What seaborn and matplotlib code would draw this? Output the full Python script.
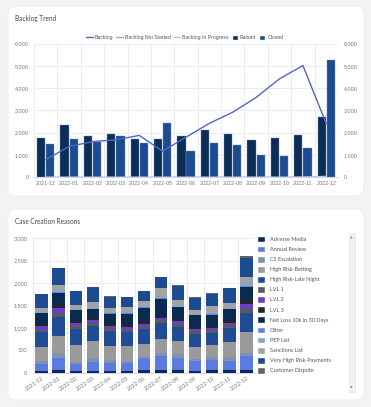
import numpy as np
import pandas as pd
import seaborn as sns
import matplotlib.pyplot as plt
from matplotlib.patches import FancyBboxPatch, Patch, Rectangle
from matplotlib.lines import Line2D
from matplotlib.ticker import FuncFormatter

# ---- data ----
months = ["2021-12", "2022-01", "2022-02", "2022-03", "2022-04", "2022-05", "2022-06",
          "2022-07", "2022-08", "2022-09", "2022-10", "2022-11", "2022-12"]

raised = [1760, 2340, 1830, 1920, 1700, 1700, 1830, 2130, 1950, 1680, 1770, 1890, 2700]
closed = [1490, 1720, 1600, 1840, 1520, 2420, 1170, 1530, 1440, 990, 950, 1310, 5260]
backlog = [790, 1380, 1600, 1680, 1880, 1170, 1800, 2420, 2920, 3580, 4420, 5010, 2400]
backlog_not_started = [0, 0, 0, 0, 0, 0, 0, 0, 0, 0, 0, 0, 0]
backlog_in_progress = [0, 0, 0, 0, 0, 0, 0, 0, 0, 0, 0, 10, 40]

reasons = ["Adverse Media", "Annual Review", "CS Escalation", "High Risk-Betting",
           "High Risk-Late Night", "LVL 1", "LVL 2", "LVL 3", "Net Loss 10k in 30 Days",
           "Other", "PEP List", "Sanctions List", "Very High Risk-Payments", "Customer Dispute"]

adverse_media = [30, 60, 40, 40, 30, 40, 60, 70, 60, 40, 50, 50, 70]
annual_review = [170, 260, 150, 200, 190, 180, 260, 300, 270, 220, 230, 220, 300]
cs_escalation = [60, 120, 40, 90, 60, 50, 40, 80, 90, 40, 60, 70, 60]
high_risk_betting = [320, 380, 390, 370, 320, 320, 290, 310, 290, 270, 280, 340, 480]
high_risk_late_night = [320, 420, 350, 340, 330, 310, 330, 350, 320, 300, 270, 320, 430]
lvl_1 = [60, 100, 70, 60, 60, 60, 50, 70, 60, 50, 60, 60, 90]
lvl_2 = [80, 110, 70, 70, 60, 70, 60, 50, 60, 50, 50, 60, 100]
lvl_3 = [50, 70, 50, 60, 40, 40, 40, 30, 40, 30, 30, 50, 80]
net_loss = [240, 260, 230, 190, 230, 250, 320, 390, 270, 280, 260, 250, 300]
other = [10, 20, 10, 10, 10, 10, 10, 20, 10, 10, 10, 10, 20]
pep_list = [30, 40, 30, 40, 30, 30, 40, 40, 40, 30, 40, 30, 70]
sanctions_list = [80, 120, 90, 110, 90, 100, 110, 170, 120, 90, 150, 100, 130]
very_high_risk_payments = [300, 370, 300, 330, 250, 230, 210, 250, 310, 260, 270, 320, 420]
customer_dispute = [10, 10, 10, 10, 10, 10, 10, 10, 10, 10, 10, 10, 50]

reason_values = [adverse_media, annual_review, cs_escalation, high_risk_betting,
                 high_risk_late_night, lvl_1, lvl_2, lvl_3, net_loss, other, pep_list,
                 sanctions_list, very_high_risk_payments, customer_dispute]

reason_colors = ["#0d2b52", "#5b7be0", "#7f93b0", "#9a9a9a", "#1f4c94", "#5a5a5a", "#6a3fc8",
                 "#262626", "#0b2a4f", "#6383e3", "#8fa3be", "#a3a3a3", "#1d4b90", "#636363"]

c_raised = "#0c2d55"
c_closed = "#1d4b8f"
c_backlog = "#4f66c2"
c_not_started = "#8ea3e6"
c_in_progress = "#b6c4ee"

W, H = 371, 407

sns.set_theme(style="white")
plt.rcParams['font.family'] = ['Lato', 'DejaVu Sans']

fig = plt.figure(figsize=(W / 100, H / 100), dpi=100)
fig.patch.set_facecolor("#f3f3f3")


def px_box(x0, y0, x1, y1):
    # pixel box (top-left origin) -> figure fraction [left, bottom, w, h]
    return [x0 / W, 1 - y1 / H, (x1 - x0) / W, (y1 - y0) / H]


# cards (behind the axes)
for (x0, y0, x1, y1) in [(8, 6, 364, 196), (8, 209, 364, 400)]:
    l, b, w, h = px_box(x0, y0, x1, y1)
    fig.add_artist(FancyBboxPatch((l, b), w, h, boxstyle="round,pad=0,rounding_size=0.02",
                                  transform=fig.transFigure, fc="white", ec="#e8e8e8", lw=0.5,
                                  zorder=-5))

fig.text(15 / W, 1 - 18 / H, "Backlog Trend", fontsize=4.7, color="#444444", va="center")
fig.text(15 / W, 1 - 221 / H, "Case Creation Reasons", fontsize=4.7, color="#444444", va="center")

thousands = FuncFormatter(lambda v, p: f"{v:,.0f}")
tick_color = "#777777"
grid_color = "#e9e9e9"
arial_like = ['Liberation Sans', 'DejaVu Sans']

# ---- Backlog Trend ----
ax1 = fig.add_axes(px_box(34, 43.5, 338, 177.3))
ax1.patch.set_alpha(0)
df_top = pd.DataFrame({
    "month": months * 2,
    "count": raised + closed,
    "type": ["Raised"] * len(months) + ["Closed"] * len(months),
})
sns.barplot(data=df_top, x="month", y="count", hue="type", palette=[c_raised, c_closed],
            saturation=1, width=0.78, gap=0.1, legend=False, ax=ax1, zorder=2,
            edgecolor="#6f8fc0", linewidth=0.3)
for vals, col in [(backlog_not_started, c_not_started), (backlog_in_progress, c_in_progress),
                  (backlog, c_backlog)]:
    sns.pointplot(x=months, y=vals, color=col, markers="", linewidth=1.0, ax=ax1, zorder=3)

ax1.set_ylim(0, 6000)
ax1.set_yticks(np.arange(0, 6001, 1000))
ax1.yaxis.set_major_formatter(thousands)
ax1.set_xlabel("")
ax1.set_ylabel("")
ax1.set_xticks(np.arange(-0.5, len(months), 1), minor=True)
ax1.grid(True, which="major", axis="y", color=grid_color, lw=0.6, zorder=0)
ax1.grid(True, which="minor", axis="x", color=grid_color, lw=0.6, zorder=0)
ax1.set_axisbelow(True)
ax1.tick_params(axis="both", which="both", length=0, labelsize=3.9, colors=tick_color)
ax1.tick_params(axis="y", pad=4)
ax1.tick_params(axis="x", pad=3)
for s in ["top", "right", "left"]:
    ax1.spines[s].set_visible(False)
ax1.spines["bottom"].set_color("#c8cde0")
ax1.spines["bottom"].set_linewidth(0.6)

ax2 = ax1.twinx()
ax2.set_ylim(0, 6000)
ax2.set_yticks(np.arange(0, 6001, 1000))
ax2.yaxis.set_major_formatter(thousands)
ax2.tick_params(axis="y", length=0, labelsize=3.9, colors=tick_color, pad=4)
for s in ax2.spines.values():
    s.set_visible(False)
for lab in ax1.get_xticklabels() + ax1.get_yticklabels() + ax2.get_yticklabels():
    lab.set_family(arial_like)

top_handles = [Line2D([], [], color=c_backlog, lw=1), Line2D([], [], color=c_not_started, lw=1),
               Line2D([], [], color=c_in_progress, lw=1), Patch(fc=c_raised), Patch(fc=c_closed)]
fig.legend(top_handles, ["Backlog", "Backlog Not Started", "Backlog In Progress", "Raised", "Closed"],
           loc="center", bbox_to_anchor=(185 / W, 1 - 37.5 / H), ncol=5,
           prop={"family": arial_like, "size": 3.7},
           frameon=False, handlelength=1.2, handleheight=1.2, handletextpad=0.4,
           columnspacing=0.6, labelcolor="#555555")

# ---- Case Creation Reasons ----
ax3 = fig.add_axes(px_box(33, 238.3, 255, 372.7))
ax3.patch.set_alpha(0)
stack = np.cumsum(np.array(reason_values), axis=0)
for i in range(len(reasons) - 1, -1, -1):
    sns.barplot(x=months, y=stack[i], color=reason_colors[i], saturation=1, width=0.72,
                linewidth=0, ax=ax3)

ax3.set_ylim(0, 3000)
ax3.set_yticks(np.arange(0, 3001, 500))
ax3.yaxis.set_major_formatter(thousands)
ax3.set_xticks(np.arange(-0.5, len(months), 1), minor=True)
ax3.grid(True, which="major", axis="y", color=grid_color, lw=0.6)
ax3.grid(True, which="minor", axis="x", color=grid_color, lw=0.6)
ax3.set_axisbelow(True)
ax3.tick_params(axis="both", which="both", length=0, labelsize=4.0, colors=tick_color)
ax3.tick_params(axis="y", pad=4)
ax3.tick_params(axis="x", pad=2)
plt.setp(ax3.get_xticklabels(), rotation=35, ha="right", rotation_mode="anchor")
for s in ["top", "right", "left"]:
    ax3.spines[s].set_visible(False)
ax3.spines["bottom"].set_color("#c8cde0")
ax3.spines["bottom"].set_linewidth(0.6)

fig.legend([Patch(fc=c) for c in reason_colors], reasons, loc="upper left",
           bbox_to_anchor=(257 / W, 1 - 235.5 / H), frameon=False, fontsize=4.0,
           handlelength=1.5, handleheight=1.5, handletextpad=0.8, labelspacing=0.6,
           borderaxespad=0, borderpad=0, labelcolor="#555555")

# scrollbar
l, b, w, h = px_box(348.5, 233, 355, 392)
fig.add_artist(Rectangle((l, b), w, h, transform=fig.transFigure, fc="#f2f2f2", ec="#e2e2e2", lw=0.4))
fig.text(351.7 / W, 1 - 238 / H, "\u25b2", fontsize=2.5, color="#888888", ha="center", va="center")
fig.text(351.7 / W, 1 - 388 / H, "\u25bc", fontsize=2.5, color="#888888", ha="center", va="center")

fig.savefig("out.png", dpi=100, facecolor=fig.get_facecolor())
